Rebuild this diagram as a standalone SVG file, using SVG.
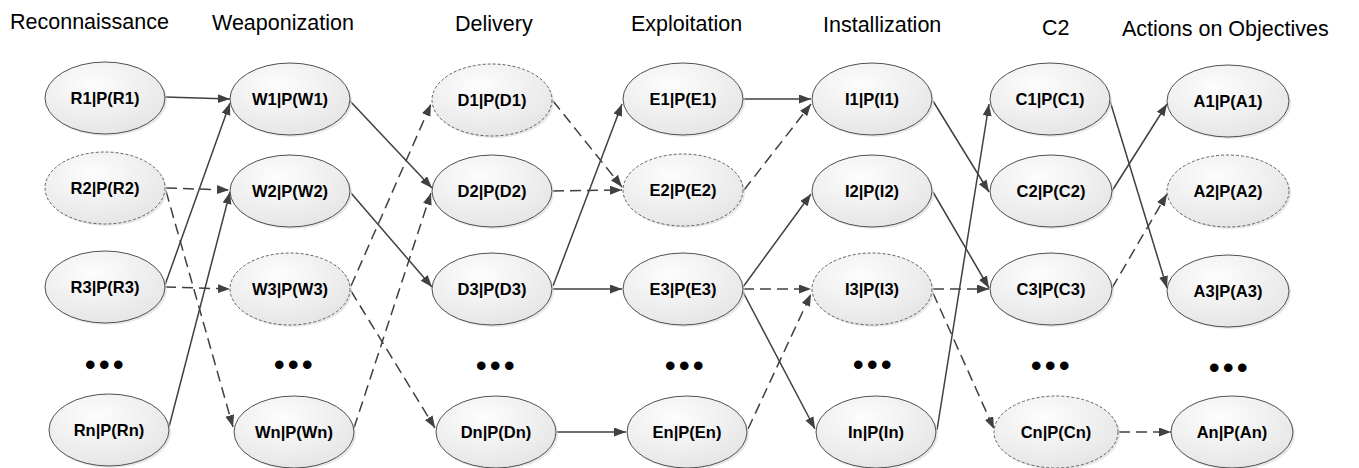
<svg xmlns="http://www.w3.org/2000/svg" width="1359" height="468" viewBox="0 0 1359 468">
<style>
.hdr{font-family:"Liberation Sans",Arial,sans-serif;font-size:21.5px;fill:#000}
.lbl{font-family:"Liberation Sans",Arial,sans-serif;font-size:16.5px;font-weight:bold;fill:#000;text-anchor:middle}
.dots{font-family:"Liberation Sans",Arial,sans-serif;font-size:30px;font-weight:bold;fill:#000;text-anchor:middle;letter-spacing:3.5px}
.el{fill:url(#g);stroke:#505050;stroke-width:1}
.dsh .el{stroke-dasharray:3 2;stroke:#606060}
.sh{fill:#d8d8d8;opacity:0.6}
.c{fill:none;stroke:#404040;stroke-width:1.5;marker-end:url(#ah)}
.d{stroke-dasharray:11 6}
</style>
<defs>
<radialGradient id="g" cx="0.4" cy="0.3" r="0.8">
<stop offset="0" stop-color="#fdfdfd"/>
<stop offset="1" stop-color="#e3e3e3"/>
</radialGradient>
<marker id="ah" markerUnits="userSpaceOnUse" markerWidth="13" markerHeight="10" refX="12" refY="4.5" orient="auto">
<path d="M0,0 L12,4.5 L0,9 Z" fill="#404040"/>
</marker>
</defs>
<rect width="1359" height="468" fill="#fff"/>

<g id="headers">
<text class="hdr" x="10" y="29">Reconnaissance</text>
<text class="hdr" x="212" y="30">Weaponization</text>
<text class="hdr" x="455" y="31">Delivery</text>
<text class="hdr" x="631" y="31">Exploitation</text>
<text class="hdr" x="823" y="32">Installization</text>
<text class="hdr" x="1042" y="35">C2</text>
<text class="hdr" x="1122" y="36">Actions on Objectives</text>
</g>

<g id="connectors">
<path class="c" d="M165,97 L230,99"/>
<path class="c" d="M165,285 L230,103"/>
<path class="c" d="M169,427 L230,192"/>
<path class="c d" d="M166,188 L229,190"/>
<path class="c d" d="M166,191 L233,427"/>
<path class="c d" d="M165,287 L230,289"/>
<path class="c" d="M350,101 L432,188"/>
<path class="c" d="M351,193 L432,287"/>
<path class="c d" d="M351,286 L431,104"/>
<path class="c d" d="M351,291 L435,428"/>
<path class="c d" d="M354,428 L431,193"/>
<path class="c d" d="M553,101 L622,187"/>
<path class="c d" d="M553,191 L622,190"/>
<path class="c" d="M553,286 L622,104"/>
<path class="c" d="M553,289 L622,289"/>
<path class="c" d="M557,432 L626,432"/>
<path class="c" d="M743,99 L811,99"/>
<path class="c d" d="M744,190 L811,104"/>
<path class="c" d="M743,287 L811,194"/>
<path class="c d" d="M743,289 L811,289"/>
<path class="c" d="M743,292 L815,429"/>
<path class="c d" d="M748,429 L811,294"/>
<path class="c" d="M933,101 L989,192"/>
<path class="c" d="M933,192 L989,288"/>
<path class="c d" d="M933,289 L989,289"/>
<path class="c d" d="M933,293 L994,429"/>
<path class="c" d="M937,430 L989,104"/>
<path class="c" d="M1110,101 L1167,288"/>
<path class="c" d="M1112,191 L1167,104"/>
<path class="c d" d="M1112,288 L1167,194"/>
<path class="c d" d="M1119,432 L1171,432"/>
</g>

<g id="R1"><ellipse class="sh" cx="107" cy="100" rx="60" ry="36"/><ellipse class="el" cx="105" cy="98" rx="60" ry="36"/><text class="lbl" x="105" y="104">R1|P(R1)</text></g>
<g id="R2" class="dsh"><ellipse class="sh" cx="107" cy="190" rx="60" ry="36"/><ellipse class="el" cx="105" cy="188" rx="60" ry="36"/><text class="lbl" x="105" y="194">R2|P(R2)</text></g>
<g id="R3"><ellipse class="sh" cx="107" cy="289" rx="60" ry="36"/><ellipse class="el" cx="105" cy="287" rx="60" ry="36"/><text class="lbl" x="105" y="293">R3|P(R3)</text></g>
<g id="Rn"><ellipse class="sh" cx="111" cy="432" rx="60" ry="36"/><ellipse class="el" cx="109" cy="430" rx="60" ry="36"/><text class="lbl" x="109" y="436">Rn|P(Rn)</text></g>

<g id="W1"><ellipse class="sh" cx="292" cy="101" rx="60" ry="36"/><ellipse class="el" cx="290" cy="99" rx="60" ry="36"/><text class="lbl" x="290" y="105">W1|P(W1)</text></g>
<g id="W2"><ellipse class="sh" cx="292" cy="193" rx="60" ry="36"/><ellipse class="el" cx="290" cy="191" rx="60" ry="36"/><text class="lbl" x="290" y="197">W2|P(W2)</text></g>
<g id="W3" class="dsh"><ellipse class="sh" cx="292" cy="291" rx="60" ry="36"/><ellipse class="el" cx="290" cy="289" rx="60" ry="36"/><text class="lbl" x="290" y="295">W3|P(W3)</text></g>
<g id="Wn"><ellipse class="sh" cx="296" cy="434" rx="60" ry="36"/><ellipse class="el" cx="294" cy="432" rx="60" ry="36"/><text class="lbl" x="294" y="438">Wn|P(Wn)</text></g>

<g id="D1" class="dsh"><ellipse class="sh" cx="494" cy="102" rx="60" ry="36"/><ellipse class="el" cx="492" cy="100" rx="60" ry="36"/><text class="lbl" x="492" y="106">D1|P(D1)</text></g>
<g id="D2"><ellipse class="sh" cx="494" cy="193" rx="60" ry="36"/><ellipse class="el" cx="492" cy="191" rx="60" ry="36"/><text class="lbl" x="492" y="197">D2|P(D2)</text></g>
<g id="D3"><ellipse class="sh" cx="494" cy="291" rx="60" ry="36"/><ellipse class="el" cx="492" cy="289" rx="60" ry="36"/><text class="lbl" x="492" y="295">D3|P(D3)</text></g>
<g id="Dn"><ellipse class="sh" cx="498" cy="434" rx="60" ry="36"/><ellipse class="el" cx="496" cy="432" rx="60" ry="36"/><text class="lbl" x="496" y="438">Dn|P(Dn)</text></g>

<g id="E1"><ellipse class="sh" cx="685" cy="101" rx="60" ry="36"/><ellipse class="el" cx="683" cy="99" rx="60" ry="36"/><text class="lbl" x="683" y="105">E1|P(E1)</text></g>
<g id="E2" class="dsh"><ellipse class="sh" cx="685" cy="192" rx="60" ry="36"/><ellipse class="el" cx="683" cy="190" rx="60" ry="36"/><text class="lbl" x="683" y="196">E2|P(E2)</text></g>
<g id="E3"><ellipse class="sh" cx="685" cy="291" rx="60" ry="36"/><ellipse class="el" cx="683" cy="289" rx="60" ry="36"/><text class="lbl" x="683" y="295">E3|P(E3)</text></g>
<g id="En"><ellipse class="sh" cx="689" cy="434" rx="60" ry="36"/><ellipse class="el" cx="687" cy="432" rx="60" ry="36"/><text class="lbl" x="687" y="438">En|P(En)</text></g>

<g id="I1"><ellipse class="sh" cx="874" cy="101" rx="60" ry="36"/><ellipse class="el" cx="872" cy="99" rx="60" ry="36"/><text class="lbl" x="872" y="105">I1|P(I1)</text></g>
<g id="I2"><ellipse class="sh" cx="874" cy="193" rx="60" ry="36"/><ellipse class="el" cx="872" cy="191" rx="60" ry="36"/><text class="lbl" x="872" y="197">I2|P(I2)</text></g>
<g id="I3" class="dsh"><ellipse class="sh" cx="874" cy="291" rx="60" ry="36"/><ellipse class="el" cx="872" cy="289" rx="60" ry="36"/><text class="lbl" x="872" y="295">I3|P(I3)</text></g>
<g id="In"><ellipse class="sh" cx="878" cy="434" rx="60" ry="36"/><ellipse class="el" cx="876" cy="432" rx="60" ry="36"/><text class="lbl" x="876" y="438">In|P(In)</text></g>

<g id="C1"><ellipse class="sh" cx="1052" cy="101" rx="60" ry="36"/><ellipse class="el" cx="1050" cy="99" rx="60" ry="36"/><text class="lbl" x="1050" y="105">C1|P(C1)</text></g>
<g id="C2"><ellipse class="sh" cx="1053" cy="193" rx="61" ry="36"/><ellipse class="el" cx="1051" cy="191" rx="61" ry="36"/><text class="lbl" x="1051" y="197">C2|P(C2)</text></g>
<g id="C3"><ellipse class="sh" cx="1053" cy="291" rx="61" ry="36"/><ellipse class="el" cx="1051" cy="289" rx="61" ry="36"/><text class="lbl" x="1051" y="295">C3|P(C3)</text></g>
<g id="Cn" class="dsh"><ellipse class="sh" cx="1058" cy="434" rx="62" ry="36"/><ellipse class="el" cx="1056" cy="432" rx="62" ry="36"/><text class="lbl" x="1056" y="438">Cn|P(Cn)</text></g>

<g id="A1"><ellipse class="sh" cx="1230" cy="103" rx="61" ry="36"/><ellipse class="el" cx="1228" cy="101" rx="61" ry="36"/><text class="lbl" x="1228" y="107">A1|P(A1)</text></g>
<g id="A2" class="dsh"><ellipse class="sh" cx="1230" cy="193" rx="61" ry="36"/><ellipse class="el" cx="1228" cy="191" rx="61" ry="36"/><text class="lbl" x="1228" y="197">A2|P(A2)</text></g>
<g id="A3"><ellipse class="sh" cx="1230" cy="293" rx="61" ry="36"/><ellipse class="el" cx="1228" cy="291" rx="61" ry="36"/><text class="lbl" x="1228" y="297">A3|P(A3)</text></g>
<g id="An"><ellipse class="sh" cx="1234" cy="434" rx="61" ry="36"/><ellipse class="el" cx="1232" cy="432" rx="61" ry="36"/><text class="lbl" x="1232" y="438">An|P(An)</text></g>

<g id="ellipsis">
<text class="dots" x="106" y="375">•••</text>
<text class="dots" x="295" y="375">•••</text>
<text class="dots" x="497" y="376">•••</text>
<text class="dots" x="686" y="376">•••</text>
<text class="dots" x="874" y="375">•••</text>
<text class="dots" x="1052" y="376">•••</text>
<text class="dots" x="1230" y="378">•••</text>
</g>
</svg>
